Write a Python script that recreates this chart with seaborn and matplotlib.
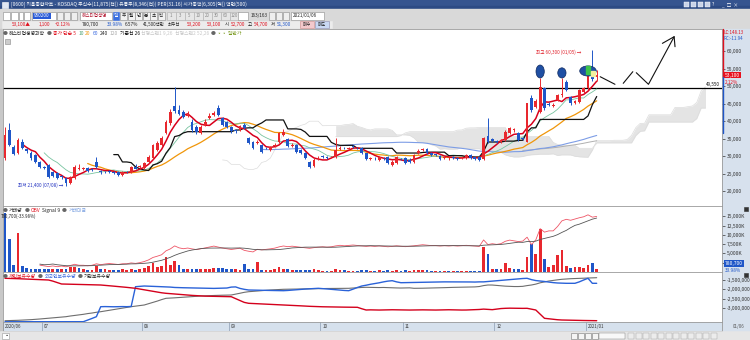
import numpy as np
import pandas as pd
import matplotlib
matplotlib.use("Agg")
import matplotlib.pyplot as plt
from matplotlib.patches import Rectangle, Ellipse
import matplotlib.transforms as mtrans
import seaborn as sns

# ---------------- data ----------------
START, END = "2020-06-18", "2021-01-06"
HOLIDAYS = ["2020-08-17", "2020-09-30", "2020-10-01", "2020-10-02",
            "2020-10-09", "2020-12-25", "2020-12-31", "2021-01-01"]
PREV_CLOSE = 37000

OPEN = [29400, 37400, 32600, 30900, 34000, 31900, 30900, 30300, 28300, 26800,
        27400, 25400, 25100, 24200, 23700, 22300, 23700, 26400, 26300, 26600,
        26300, 28300, 25600, 25500, 25700, 25500, 25400, 24500, 25500, 25400,
        27000, 26800, 26600, 28300, 29400, 31700, 33100, 36600, 39400, 44300,
        43100, 42600, 41500, 39700, 38300, 36600, 38900, 40900, 41700, 43700,
        40900, 39700, 38300, 37400, 37400, 38900, 35100, 34100, 33600, 33100,
        32400, 31700, 32800, 34100, 36000, 34800, 32900, 33100, 31700, 30900,
        28400, 27100, 29300, 29900, 29600, 29600, 29800, 32000, 32400, 32100,
        32800, 32300, 32200, 30800, 29200, 29500, 28900, 29400, 29800, 27400,
        27900, 29200, 29400, 29000, 28400, 30800, 31600, 32000, 30900, 30400,
        30000, 29500, 29300, 29600, 29400, 29500, 29400, 30300, 29800, 29800,
        29200, 35800, 34800, 34300, 34100, 34600, 36500, 37300, 36500, 35200,
        34100, 46500, 44100, 42700, 49300, 44900, 44400, 46000, 47400, 51200,
        46900, 45200, 45500, 48400, 49300, 55100, 52700]
HIGH = [38300, 39400, 33200, 35200, 34800, 32400, 31300, 30600, 28600, 27200,
        27800, 25800, 25400, 24500, 24000, 24300, 27500, 27700, 27000, 27000,
        26600, 29700, 26000, 25800, 26000, 25800, 25600, 25600, 25800, 27200,
        27800, 27500, 28400, 30300, 33500, 34200, 35600, 40200, 43500, 49700,
        44500, 43200, 42800, 40500, 38800, 38800, 40500, 42200, 43000, 44600,
        41200, 40000, 38600, 37800, 39000, 39500, 35500, 34400, 34500, 33400,
        32700, 33000, 33600, 37000, 37800, 35100, 33600, 33400, 32000, 31200,
        28700, 29300, 29900, 30200, 29900, 30000, 35100, 32800, 32700, 32600,
        33100, 32600, 32500, 31000, 29800, 29800, 30100, 29700, 30000, 28800,
        30100, 29500, 29600, 29300, 30600, 31900, 32300, 32200, 31200, 30700,
        30300, 29900, 29800, 29900, 29800, 29900, 30600, 30500, 30100, 30000,
        35500, 40900, 35200, 34700, 34900, 37300, 38300, 38100, 36800, 35500,
        45100, 47500, 46300, 52300, 49800, 45300, 45100, 47800, 52300, 51800,
        47200, 46100, 49200, 49800, 54300, 60300, 54700]
LOW = [29000, 32800, 30200, 30500, 32000, 31000, 29000, 28000, 26500, 26200,
       23800, 24000, 23400, 23500, 21400, 22000, 23500, 26000, 26000, 25500,
       25600, 26600, 25000, 25100, 25200, 25000, 24400, 24200, 25100, 25200,
       26200, 26500, 26400, 28000, 29200, 31400, 32800, 36300, 39000, 42200,
       41600, 40800, 41200, 37000, 36200, 36300, 38500, 40500, 41300, 41400,
       38600, 38000, 36700, 36600, 37100, 37600, 33300, 31900, 33300, 30900,
       31900, 31400, 32500, 33800, 35700, 32600, 32600, 30900, 30600, 29100,
       26600, 26900, 29000, 29400, 29100, 29300, 29500, 31800, 31900, 31800,
       32400, 31900, 30600, 28800, 28900, 29000, 28600, 29000, 27600, 27100,
       27600, 28800, 27600, 28000, 28100, 30500, 31300, 30500, 30000, 30000,
       28800, 29200, 29000, 29200, 28900, 29200, 29100, 29100, 28900, 28600,
       29000, 33800, 34000, 33700, 33800, 34300, 36200, 37000, 34300, 34600,
       33900, 42500, 43800, 42400, 43200, 44200, 44000, 45600, 47000, 48500,
       44700, 44900, 45200, 48000, 49000, 51500, 51300]
CLOSE = [36000, 33100, 30600, 34600, 32300, 31500, 29400, 28300, 26900, 26500,
         24000, 24300, 23700, 23900, 22300, 24000, 26900, 26600, 26600, 25700,
         26000, 26900, 25300, 25400, 25500, 25200, 24600, 25400, 25400, 26900,
         26400, 27100, 28000, 29700, 33100, 33700, 35100, 39700, 42600, 42800,
         42000, 41100, 41800, 37400, 36900, 38300, 39700, 41400, 42300, 41700,
         38900, 38300, 37100, 37200, 38600, 37900, 33600, 32200, 34100, 31200,
         32200, 32700, 33100, 36600, 36800, 32900, 33100, 31200, 30900, 29400,
         26900, 28900, 29500, 29700, 29400, 29700, 31700, 32300, 32200, 32300,
         32700, 32200, 30900, 29100, 29400, 29300, 29800, 29300, 27900, 28400,
         29800, 29100, 27900, 28300, 30300, 31500, 31900, 30800, 30300, 30300,
         29100, 29600, 29400, 29500, 29200, 29550, 30300, 29400, 29200, 28900,
         35100, 34100, 34400, 34000, 34600, 36900, 37900, 37600, 34600, 35000,
         45100, 43100, 45800, 49800, 43600, 44600, 44600, 47400, 47600, 48900,
         45100, 45700, 48900, 49300, 53600, 52000, 53100]
VOLUME_K = [16000, 8800, 1800, 10400, 1500, 1000, 900, 800, 800, 700,
            800, 700, 800, 700, 800, 1300, 1300, 1000, 700, 500,
            500, 1500, 900, 700, 500, 500, 500, 700, 500, 900,
            500, 800, 1100, 1700, 2500, 1300, 1500, 4000, 2000, 3100,
            2000, 900, 700, 900, 700, 800, 900, 900, 1000, 1000,
            1000, 800, 700, 700, 600, 2200, 900, 700, 2700, 600,
            500, 600, 700, 1300, 900, 700, 500, 600, 500, 500,
            600, 700, 500, 400, 400, 400, 900, 600, 500, 400,
            400, 400, 500, 500, 400, 400, 500, 400, 500, 400,
            600, 400, 500, 400, 500, 600, 500, 500, 400, 400,
            400, 350, 350, 350, 400, 350, 400, 400, 350, 400,
            6700, 4800, 900, 700, 800, 2400, 1200, 800, 700, 500,
            4000, 7600, 4800, 11600, 3600, 1300, 1800, 4500, 5800, 1600,
            1000, 1300, 1300, 1000, 2000, 2400, 780.7]
INDIV_K = [-1409, -1415, -1420, -1430, -1440, -1450, -1460, -1470, -1480, -1490,
           -1500, -1560, -1640, -1714, -1720, -1730, -1735, -1740, -1745, -1750,
           -1755, -1760, -1768, -1790, -1810, -1830, -1850, -1870, -1895, -1920,
           -1945, -1985, -2030, -2070, -2110, -2150, -2185, -2213, -2230, -2250,
           -2270, -2290, -2310, -2325, -2340, -2358, -2365, -2370, -2375, -2380,
           -2385, -2390, -2395, -2500, -2600, -2700, -2749, -2760, -2770, -2780,
           -2790, -2800, -2815, -2830, -2840, -2850, -2860, -2870, -2885, -2900,
           -2910, -2920, -2931, -2935, -2940, -2945, -2950, -2950, -2955, -2958,
           -2960, -2963, -3040, -3108, -3100, -3105, -3110, -3105, -3100, -3095,
           -3100, -3110, -3115, -3110, -3105, -3100, -3100, -3105, -3110, -3110,
           -3105, -3100, -3095, -3100, -3105, -3110, -3108, -3100, -3090, -3080,
           -3060, -3075, -3090, -3060, -3030, -3017, -3010, -3015, -3017, -3020,
           -3017, -3060, -3108, -3330, -3553, -3580, -3610, -3630, -3644, -3650,
           -3655, -3660, -3665, -3670, -3672, -3676, -3681]
FOREIGN_K = [-3735, -3735, -3733, -3735, -3736, -3735, -3734, -3735, -3735, -3736,
             -3735, -3735, -3734, -3735, -3735, -3735, -3736, -3735, -3735, -3650,
             -3560, -3467, -2931, -2925, -2930, -2935, -2930, -2925, -2930, -2920,
             -1859, -1840, -1822, -1830, -1840, -1850, -1860, -1870, -1880, -1900,
             -1910, -1915, -1920, -1925, -1930, -1935, -1940, -1945, -1950, -1945,
             -1940, -1930, -1880, -1870, -1950, -2000, -2036, -2040, -2045, -2050,
             -2055, -2060, -2065, -2070, -2073, -2060, -2040, -2020, -2000, -1985,
             -1970, -1955, -1945, -1960, -1980, -2000, -2020, -2040, -2060, -2073,
             -1990, -1900, -1822, -1780, -1730, -1690, -1650, -1600, -1560, -1537,
             -1600, -1645, -1640, -1630, -1625, -1620, -1615, -1610, -1605, -1600,
             -1600, -1600, -1600, -1600, -1605, -1600, -1600, -1605, -1610, -1600,
             -1600, -1580, -1560, -1540, -1520, -1500, -1480, -1460, -1440, -1420,
             -1409, -1480, -1530, -1554, -1580, -1610, -1640, -1660, -1670, -1677,
             -1677, -1677, -1600, -1500, -1409, -1677, -1677]
INST_K = [-3681, -3675, -3670, -3660, -3650, -3640, -3625, -3610, -3590, -3570,
          -3553, -3530, -3510, -3490, -3467, -3430, -3400, -3370, -3340, -3300,
          -3270, -3230, -3199, -3160, -3120, -3080, -3040, -3000, -2965, -2931,
          -2900, -2870, -2840, -2770, -2700, -2630, -2550, -2481, -2470, -2455,
          -2440, -2425, -2410, -2395, -2375, -2358, -2350, -2340, -2330, -2320,
          -2315, -2310, -2304, -2260, -2210, -2160, -2127, -2110, -2090, -2070,
          -2050, -2035, -2020, -2010, -1998, -1995, -1990, -1985, -1980, -1975,
          -1970, -1965, -1960, -1958, -1955, -1952, -1950, -1948, -1946, -1945,
          -1930, -1915, -1900, -1891, -1895, -1900, -1905, -1900, -1910, -1920,
          -1925, -1930, -1925, -1920, -1945, -1945, -1940, -1935, -1930, -1925,
          -1920, -1910, -1900, -1895, -1891, -1890, -1885, -1880, -1870, -1850,
          -1800, -1768, -1770, -1790, -1810, -1830, -1840, -1850, -1850, -1840,
          -1800, -1768, -1720, -1650, -1600, -1554, -1520, -1490, -1462, -1445,
          -1430, -1420, -1409, -1400, -1390, -1385, -1377]

PRICE_TICKS = [20000, 25000, 30000, 35000, 40000, 45000, 50000, 55000, 60000]
VOL_TICKS_K = [2500, 5000, 7500, 10000, 12500, 15000]
HOLD_TICKS = [-3000000, -2500000, -2000000, -1500000]
MONTH_LABELS = ["2020/06", "07", "08", "09", "10", "11", "12", "2021/01"]
HLINE_PRICE = 49550
MARKED_CANDLES = [123, 128, 134]

# ---------------- frame ----------------
dates = pd.bdate_range(START, END)
dates = dates[~dates.isin(pd.to_datetime(HOLIDAYS))]
df = pd.DataFrame({"date": dates, "open": OPEN, "high": HIGH, "low": LOW,
                   "close": CLOSE, "vol": VOLUME_K,
                   "indiv": np.array(INDIV_K) * 1000,
                   "foreign": np.array(FOREIGN_K) * 1000,
                   "inst": np.array(INST_K) * 1000})
df["i"] = np.arange(len(df))
for n in (5, 10, 20, 60, 120):
    df[f"ma{n}"] = df["close"].rolling(n).mean()
df["kijun"] = (df["high"].rolling(26).max() + df["low"].rolling(26).min()) / 2
tenkan = (df["high"].rolling(9).max() + df["low"].rolling(9).min()) / 2
span1 = ((tenkan + df["kijun"]) / 2).values
span2 = ((df["high"].rolling(52).max() + df["low"].rolling(52).min()) / 2).values
cloud = pd.DataFrame({"i": df["i"] + 25, "s1": span1, "s2": span2})
prev = df["close"].shift(1).fillna(PREV_CLOSE)
df["obv"] = (np.sign(df["close"] - prev) * df["vol"]).cumsum()
df["sig"] = df["obv"].rolling(9).mean()

# ---------------- style ----------------
sns.set_theme(style="white")
plt.rcParams["font.family"] = ["Noto Sans CJK KR", "DejaVu Sans"]
plt.rcParams["axes.unicode_minus"] = False

RED, BLUE = "#e8282e", "#1f56c8"
W, H = 750, 340
fig = plt.figure(figsize=(7.5, 3.4), dpi=100)


def rect(x0, y0, x1, y1):
    return [x0 / W, 1 - y1 / H, (x1 - x0) / W, (y1 - y0) / H]


bg = fig.add_axes([0, 0, 1, 1], zorder=0)
bg.set_xlim(0, W); bg.set_ylim(H, 0); bg.axis("off")
bg.add_patch(Rectangle((0, 0), W, H, color="#e9e9e9"))
bg.add_patch(Rectangle((0, 0), W, 9, color="#35548f"))
bg.add_patch(Rectangle((0, 6), W, 3, color="#2c4a84"))
bg.add_patch(Rectangle((0, 9), W, 20, color="#d9d9d9"))
bg.add_patch(Rectangle((722, 29), 28, 302, color="#d7e1ed"))
bg.add_patch(Rectangle((0, 29), 3, 302, color="#c8c8c8"))

XMIN, XMAX = -0.46, 164.8
pax = fig.add_axes(rect(3, 29, 722, 206), zorder=2)
vax = fig.add_axes(rect(3, 206, 722, 272), zorder=2)
vax2 = fig.add_axes(rect(3, 206, 722, 272), zorder=3)
hax = fig.add_axes(rect(3, 272, 722, 322), zorder=2)
dax = fig.add_axes(rect(3, 322, 722, 331), zorder=2)

for a in (pax, vax, vax2, hax, dax):
    a.set_xlim(XMIN, XMAX)
    a.set_xticks([])
    for s in a.spines.values():
        s.set_color("#9a9a9a"); s.set_linewidth(0.6)
TICK = dict(axis="y", labelsize=3.6, length=2, pad=1.2, colors="#333333", width=0.5)

# ---- price panel ----
pax.set_facecolor("white")
pax.fill_between(cloud["i"], cloud["s1"], cloud["s2"], color="#e4e4e4", lw=0, zorder=1)
sns.lineplot(data=cloud, x="i", y="s1", ax=pax, color="#dcdcdc", lw=0.5, zorder=1)
sns.lineplot(data=cloud, x="i", y="s2", ax=pax, color="#dcdcdc", lw=0.5, zorder=1)
pax.axhline(HLINE_PRICE, color="black", lw=0.9, zorder=2)
for col, c, lw in [("ma120", "#b0b0b0", 0.7), ("ma60", "#7d9de6", 0.8),
                   ("ma20", "#f0960a", 0.9), ("ma10", "#78c4a0", 0.6),
                   ("kijun", "#111111", 0.9), ("ma5", "#d8001c", 1.1)]:
    sns.lineplot(data=df, x="i", y=col, ax=pax, color=c, lw=lw, zorder=3)
up = df["close"] >= df["open"]
ccol = np.where(up, RED, BLUE)
pax.vlines(df["i"], df["low"], df["high"], colors=ccol, lw=0.7, zorder=4)
body = (df["close"] - df["open"]).abs().clip(lower=150)
pax.bar(df["i"], body, bottom=np.minimum(df["open"], df["close"]), width=0.64,
        color=ccol, lw=0, zorder=5)
# user-drawn marks
for k, w, h in zip(MARKED_CANDLES, [1.9, 1.9, 3.8], [3700, 2900, 2900]):
    cy = df["high"][k] + (h / 2 if k != 134 else 0)
    pax.add_patch(Ellipse((k, cy), w, h, facecolor="#1f4fa3", edgecolor="#0f2a60",
                          lw=0.5, zorder=6))
k = MARKED_CANDLES[-1]
pax.add_patch(Rectangle((k - 0.35, df["close"][k] - 200), 0.7, 2200, color="#3cc24a", zorder=7))
pax.add_patch(Rectangle((k + 0.6, df["close"][k] - 700), 0.9, 1500, color="#f4f0a0", zorder=7))
zig = [[(136.8, 52660), (140.2, 50490)], [(142.1, 50770), (144.3, 54090)],
       [(145.1, 53800), (147.9, 50490), (153.8, 64090)],
       [(151.1, 62190), (153.8, 64090), (154.0, 61230)]]
for seg in zig:
    xs, ys = zip(*seg)
    pax.plot(xs, ys, color="#111111", lw=0.8, zorder=6)
pax.set_ylim(15716, 66290)
pax.yaxis.tick_right()
pax.set_yticks(PRICE_TICKS)
pax.set_yticklabels([f"{v:,}" for v in PRICE_TICKS])
pax.tick_params(**TICK)
ilo = int(np.argmin(df["low"])); ihi = int(np.argmax(df["high"]))
pax.text(ilo - 0.6, df["low"][ilo] + 200,
         f"최저 {df['low'][ilo]:,} ({df['date'][ilo]:%m/%d}) →", color="#2030c0",
         fontsize=3.3, ha="right", va="center", zorder=8)
pax.text(ihi - 2.5, df["high"][ihi] - 700,
         f"최고 {df['high'][ihi]:,} ({df['date'][ihi]:%m/%d}) →", color="#e0202a",
         fontsize=3.3, ha="right", va="center", zorder=8)
pax.text(XMAX - 0.5, HLINE_PRICE + 300, f"{HLINE_PRICE:,}", fontsize=3.3,
         ha="right", va="bottom", color="#111111", zorder=8)
tr = mtrans.blended_transform_factory(pax.transAxes, pax.transData)
last = df["close"].iloc[-1]
pax.text(1.004, last, f"{last:,}", transform=tr, fontsize=3.6, color="white", va="center",
         ha="left", clip_on=False, zorder=9,
         bbox=dict(boxstyle="square,pad=0.15", fc="#e8101e", ec="none"))
pct = (last - df["close"].iloc[-2]) / df["close"].iloc[-2] * 100
pax.text(1.004, last - 1300, f"{pct:.2f}%", transform=tr, fontsize=3.4, color="#e8101e",
         va="top", ha="left", clip_on=False, zorder=9)
pax.set_xlabel(""); pax.set_ylabel("")

# ---- volume panel ----
vax.set_facecolor("white")
vcol = np.where(df["close"] >= prev, RED, BLUE)
vax.bar(df["i"], df["vol"], width=0.64, color=vcol, lw=0, zorder=3)
vax.set_ylim(0, 17800)
vax.yaxis.tick_right()
vax.set_yticks(VOL_TICKS_K)
vax.set_yticklabels([f"{v:,}K" for v in VOL_TICKS_K])
vax.tick_params(**TICK)
vax.set_xlabel(""); vax.set_ylabel("")
vax2.patch.set_alpha(0)
sub = df[df["i"] >= 8]
sns.lineplot(data=sub, x="i", y="obv", ax=vax2, color="#ee5566", lw=0.6)
sns.lineplot(data=sub, x="i", y="sig", ax=vax2, color="#555555", lw=0.6)
rng = sub["obv"].max() - sub["obv"].min()
vax2.set_ylim(sub["obv"].min() - 0.1 * rng, sub["obv"].max() + 0.17 * rng)
vax2.set_xlim(XMIN, XMAX)
vax2.axis("off")
trv = mtrans.blended_transform_factory(vax.transAxes, vax.transData)
lv = df["vol"].iloc[-1]
vax.text(1.004, 2300, f"{lv * 1000:,.0f}", transform=trv, fontsize=3.6, color="white",
         va="center", ha="left", clip_on=False, zorder=9,
         bbox=dict(boxstyle="square,pad=0.15", fc="#1f56c8", ec="none"))
vax.text(1.004, 1100, "33.98%", transform=trv, fontsize=3.4, color="#1f56c8",
         va="top", ha="left", clip_on=False, zorder=9)

# ---- holdings panel ----
hax.set_facecolor("white")
sns.lineplot(data=df, x="i", y="inst", ax=hax, color="#6e6e6e", lw=0.8)
sns.lineplot(data=df, x="i", y="foreign", ax=hax, color="#2a62d8", lw=1.0)
sns.lineplot(data=df, x="i", y="indiv", ax=hax, color="#d4001c", lw=1.0)
hax.set_ylim(-3751000, -1071000)
hax.yaxis.tick_right()
hax.set_yticks(HOLD_TICKS)
hax.set_yticklabels([f"{v:,}" for v in HOLD_TICKS])
hax.tick_params(**TICK)
hax.set_xlabel(""); hax.set_ylabel("")

# ---- date strip ----
dax.set_facecolor("#d6e1ed")
dax.set_ylim(0, 1); dax.set_yticks([])
starts = df.groupby(df["date"].dt.to_period("M"))["i"].min().tolist()
for j, (m, lab) in enumerate(zip(starts, MONTH_LABELS)):
    xm = m - 0.5 if j else XMIN
    dax.axvline(xm, ymin=0, ymax=1, color="#8c9db3", lw=0.5)
    dax.text(xm + 0.4, 0.45, lab, fontsize=3.2, va="center", ha="left", color="#333333")

# ---------------- chrome / texts ----------------
ov = fig.add_axes([0, 0, 1, 1], zorder=30)
ov.set_xlim(0, W); ov.set_ylim(H, 0); ov.axis("off"); ov.patch.set_alpha(0)
fig.canvas.draw()
REN = fig.canvas.get_renderer()


def t(x, y, s, c="#222222", fs=3.4, **kw):
    return ov.text(x, y, s, color=c, fontsize=fs, va="center", ha=kw.pop("ha", "left"), **kw)


def seq(x, y, pieces, fs=3.5, gap=1.7):
    for s, c in pieces:
        tt = t(x, y, s, c=c, fs=fs)
        x += tt.get_window_extent(renderer=REN).width + gap
    return x


def box(x, y, w, h, fc="white", ec="#8a8a8a", lw=0.4, z=1):
    ov.add_patch(Rectangle((x, y), w, h, facecolor=fc, edgecolor=ec, lw=lw, zorder=z))


DOT = "#666666"
# title bar
box(2, 1.5, 6, 6, fc="#dfe6f3", ec="#ffffff")
t(11, 4.6, "[0600] 키움종합차트 - KOSDAQ 주식수(11,875(천)) 유통주(8,346(천)) PER(31.16) "
  "시가총액(6,305(억)) 액면(500)", c="#ffffff", fs=3.5)
for x0 in (684, 691, 698, 705):
    box(x0, 2, 5, 5, fc="#c9d3e8", ec="#ffffff", lw=0.3)
t(712, 4.6, "?", c="white", fs=3.6)
t(722, 4.6, "_  □  ×", c="white", fs=3.4)

# toolbar row 1
for x0, w in [(3, 7), (11, 7), (19, 4), (24, 6)]:
    box(x0, 12, w, 7.5)
box(32, 12, 24, 7.5)
box(33, 13, 18, 5.5, fc="#2a5bd7", ec="none")
t(34, 15.8, "950200", c="white", fs=3.3)
for x0 in (57, 64, 71):
    box(x0, 12, 6, 7.5, fc="#eeeeee")
box(80, 12, 32, 7.5)
t(82, 15.8, "헤스티업생명", c="#b0102a", fs=3.3)
box(113, 12, 6, 7.5, fc="#3a6fe0", ec="#3a6fe0")
t(114, 15.8, "일", c="white", fs=3.3)
for j, s in enumerate(["주", "월", "년", "분", "초", "틱"]):
    box(120 + j * 7.5, 12, 7, 7.5, fc="#f2f2f2")
    t(121.3 + j * 7.5, 15.8, s, fs=3.3)
for j, s in enumerate(["1", "3", "5", "10", "20", "30", "60", "120"]):
    box(167 + j * 9, 12, 8.5, 7.5, fc="#e6e6e6", ec="#b0b0b0")
    t(171.2 + j * 9, 15.8, s, fs=3.2, c="#888888", ha="center")
box(238, 12, 10, 7.5)
t(251, 15.8, "163/163", fs=3.3)
for x0 in (269, 276, 283):
    box(x0, 12, 6, 7.5, fc="#eeeeee")
box(291, 12, 33, 7.5)
t(293, 15.8, "2021/01/06", fs=3.3)

# toolbar row 2
box(2, 21, 330, 7, fc="#ececec", ec="#ececec")
R2 = 24.6
t(12, R2, f"{last:,}▲", c="#e0101e")
t(39, R2, "1,100", c="#e0101e")
t(55, R2, f"+{pct:.2f}%", c="#e0101e")
t(82, R2, f"{lv * 1000:,.0f}")
t(107, R2, "33.98%", c="#1f56c8")
t(125, R2, "6.57%")
t(143, R2, "41,500백만", fs=3.2)
t(168, R2, "최우선", fs=3.2)
t(187, R2, "53,200", c="#e0101e")
t(207, R2, "53,100", c="#e0101e")
t(225, R2, "시", fs=3.2)
t(231, R2, f"{df['open'].iloc[-1]:,}", c="#e0101e")
t(248, R2, "고", fs=3.2)
t(254, R2, f"{df['high'].iloc[-1]:,}", c="#e0101e")
t(271, R2, "저", fs=3.2)
t(277, R2, f"{df['low'].iloc[-1]:,}", c="#1f56c8")
box(300, 21.3, 14, 6.4, fc="#f3c9cc", ec="#cc8888")
t(302.3, R2, "매수", fs=3.2)
box(315, 21.3, 14, 6.4, fc="#c9d8f3", ec="#8888aa")
t(317.3, R2, "매도", fs=3.2)

# legends
seq(2.5, 33.5, [("●", DOT), ("헤스티업생명과학", "#222222"), ("●", DOT),
                ("종가 단순 5", "#e0101e"), ("10", "#4aa070"), ("20", "#f0960a"),
                ("60", "#3a6ae0"), ("240", "#222222"), ("120", "#aaaaaa"),
                ("기준선 26", "#111111"), ("선행스팬1 9,26", "#c8c8c8"),
                ("선행스팬2 52,26", "#c8c8c8"), ("●", DOT), ("◦◦ 일반가", "#7a9a20")])
box(5, 38.5, 5, 5, fc="#cccccc", ec="#888888")
t(724, 33, "LC:148.13", c="#e0101e", fs=3.2)
t(724, 38, "RC:-11.94", c="#1f56c8", fs=3.2)
ov.plot([722.5, 722.5], [29, 77], color="#e0101e", lw=1.0)
ov.plot([722.5, 722.5], [77, 133], color="#1f56c8", lw=1.0)

seq(2.5, 210.5, [("●", DOT), ("거래량", "#222222"), ("●", DOT), ("OBV", "#e0101e"),
                 ("Signal 9", "#222222"), ("●", DOT), ("거래대금", "#7aa0e0")])
t(1, 215.8, f"{lv * 1000:,.0f}(-33.98%)", fs=3.2)
box(744, 207, 4, 4, fc="#333333", ec="#333333")
box(744, 273, 4, 4, fc="#333333", ec="#333333")

seq(2.5, 276.3, [("●", DOT), ("개인보유수량", "#e0101e"), ("●", DOT),
                 ("외국인보유수량", "#3a6ae0"), ("●", DOT), ("기관보유수량", "#222222")])

t(733, 326.5, f"{df['date'].iloc[-1]:%m/%d}", c="#555555", fs=3.2)

# bottom scroll bar
box(0, 331, 750, 9, fc="#e6e6e6", ec="#e6e6e6")
box(2, 333, 7, 6, fc="white", ec="#999999")
t(4, 336, "▪", fs=3)
for j in range(4):
    box(571 + j * 7, 333, 6, 6, fc="#f4f4f4", ec="#777777")
box(599, 333, 26, 6, fc="#f8f8f8", ec="#777777", lw=0.3)
for j in range(12):
    box(628 + j * 7.5, 333, 6, 6, fc="#ececec", ec="#a0a0a0", lw=0.3)

fig.savefig("out.png", dpi=100)
